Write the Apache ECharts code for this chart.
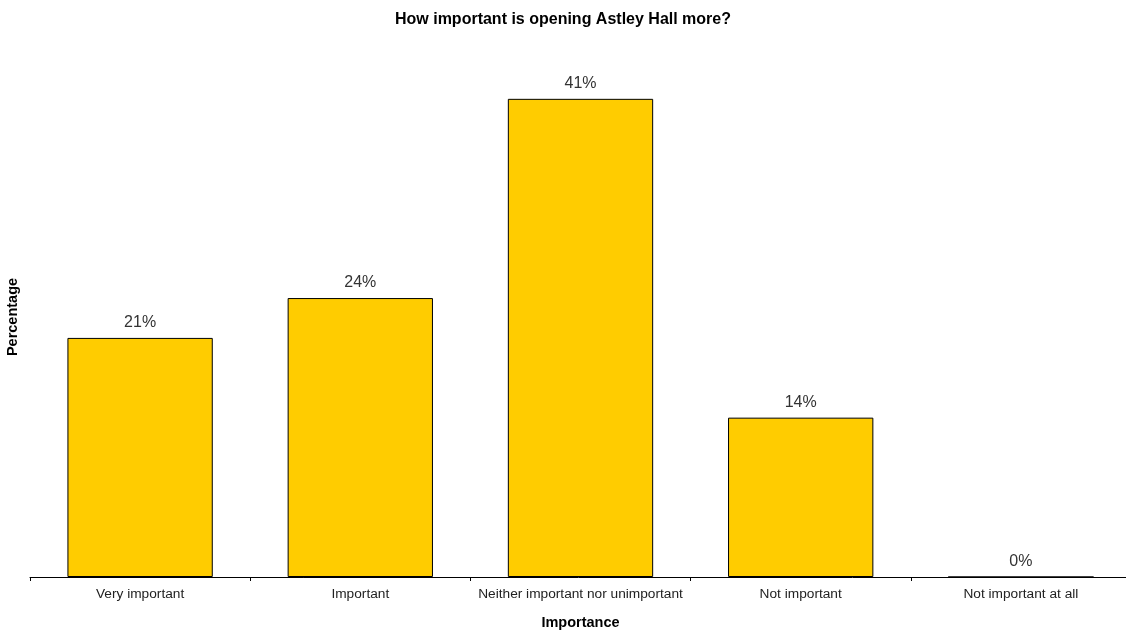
<!DOCTYPE html>
<html>
<head>
<meta charset="utf-8">
<script src="https://cdn.jsdelivr.net/npm/echarts@6/dist/echarts.min.js"></script>
<style>
html,body{margin:0;padding:0;background:#fff;}
#chart{width:1126px;height:632px;}
</style>
</head>
<body>
<div id="chart"></div>
<script>
const categories = ["Very important", "Important", "Neither important nor unimportant", "Not important", "Not important at all"];
const percentages = [20.69, 24.14, 41.38, 13.79, 0];

const FONT = '"Liberation Sans", Arial, sans-serif';
const chart = echarts.init(document.getElementById('chart'), null, {renderer: 'canvas'});
chart.setOption({
  animation: false,
  backgroundColor: '#ffffff',
  title: {
    text: 'How important is opening Astley Hall more?',
    left: 'center',
    top: 7,
    textStyle: {fontFamily: FONT, fontSize: 16, fontWeight: 'bold', color: '#000'}
  },
  grid: {left: 30, top: 57, bottom: 55, width: 1101, containLabel: false, outerBoundsMode: 'none'},
  xAxis: {
    type: 'category',
    data: categories,
    name: 'Importance',
    nameLocation: 'middle',
    nameGap: 38,
    nameTextStyle: {fontFamily: FONT, fontSize: 14.5, fontWeight: 'bold', color: '#000'},
    axisLine: {show: true, lineStyle: {color: '#000', width: 1}},
    axisTick: {show: true, length: 4, lineStyle: {color: '#000'}},
    axisLabel: {fontFamily: FONT, fontSize: 13.7, color: '#222', margin: 10, interval: 0, hideOverlap: false}
  },
  yAxis: {
    type: 'value',
    min: 0,
    max: 45,
    name: 'Percentage',
    nameLocation: 'middle',
    nameRotate: 90,
    nameGap: 10,
    nameTextStyle: {fontFamily: FONT, fontSize: 14.5, fontWeight: 'bold', color: '#000'},
    axisLine: {show: false},
    axisTick: {show: false},
    axisLabel: {show: false},
    splitLine: {show: false}
  },
  series: [{
    type: 'bar',
    data: percentages,
    barWidth: '66%',
    itemStyle: {color: '#FFCC00', borderColor: '#000', borderWidth: 1},
    label: {
      show: true,
      position: 'top',
      distance: 7,
      fontFamily: FONT,
      fontSize: 16,
      color: '#333',
      formatter: p => Math.round(p.value) + '%'
    }
  }]
});
</script>
</body>
</html>
